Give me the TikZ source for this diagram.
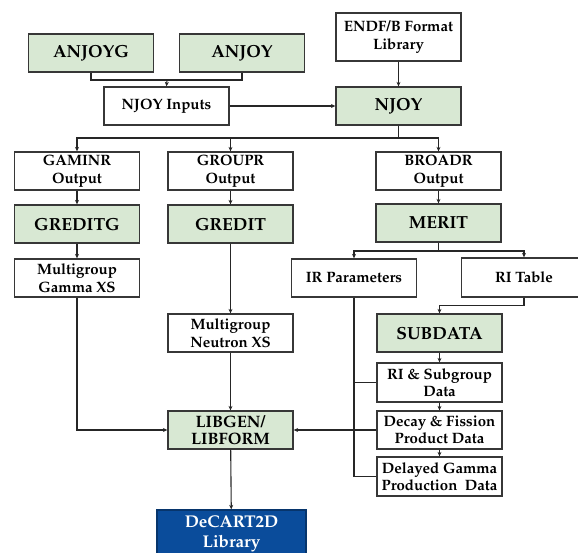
\documentclass[tikz,border=0pt]{standalone}
\usepackage[T1]{fontenc}
\usepackage{mathpazo}
\usetikzlibrary{arrows.meta}
\definecolor{boxgreen}{RGB}{216,232,211}
\definecolor{boxblue}{RGB}{10,76,155}
\definecolor{edgegray}{RGB}{55,55,55}
\tikzset{
  box/.style={draw=edgegray, line width=1.3pt, fill=white, minimum width=125pt, minimum height=38pt, inner sep=0pt, align=center, font=\fontsize{15}{17.5}\selectfont\bfseries},
  gbox/.style={box, fill=boxgreen, font=\fontsize{17.5}{19}\selectfont\bfseries},
  conn/.style={draw=black!85, line width=1.1pt},
  arr/.style={conn, -{Stealth[length=4.5pt,width=4pt]}},
}
\begin{document}
\begin{tikzpicture}[x=1pt,y=-1pt]
\useasboundingbox (0,0) rectangle (578,553);
% row 1
\node[gbox] (anjoyg) at (91,53) {ANJOYG};
\node[gbox] (anjoy) at (242,53) {ANJOY};
\node[box, minimum height=48pt] (endf) at (398.5,37) {ENDF/B Format\\Library};
% row 2
\node[box] (njin) at (166.5,106) {NJOY Inputs};
\node[gbox] (njoy) at (398.5,106) {NJOY};
% row 3
\node[box] (gaminr) at (77,171) {GAMINR\\Output};
\node[box] (groupr) at (230.5,171) {GROUPR\\Output};
\node[box] (broadr) at (438.5,171) {BROADR\\Output};
% row 4
\node[gbox] (greditg) at (77,224) {GREDITG};
\node[gbox] (gredit) at (230.5,224) {GREDIT};
\node[gbox] (merit) at (438.5,223) {MERIT};
% row 5
\node[box] (gxs) at (77,278) {Multigroup\\Gamma XS};
\node[box] (irp) at (354,278) {IR Parameters};
\node[box, minimum height=39pt] (ritab) at (524,277.5) {RI Table};
% right column
\node[gbox] (subdata) at (439.5,333) {SUBDATA};
\node[box, minimum height=39pt] (risub) at (439.5,382.5) {RI \& Subgroup\\Data};
\node[box] (decay) at (439.5,430) {Decay \& Fission\\Product Data};
\node[box, minimum height=39pt] (delayed) at (439.5,476.5) {Delayed Gamma\\Production~~Data};
% middle
\node[box] (nxs) at (230.5,333) {Multigroup\\Neutron XS};
\node[gbox, font=\fontsize{16.5}{17.5}\selectfont\bfseries] (libgen) at (230.5,430) {LIBGEN/\\LIBFORM};
\node[box, fill=boxblue, draw=boxblue!70!black, minimum width=149pt, minimum height=48pt, text=white, font=\fontsize{17}{20}\selectfont\bfseries] (decart) at (231.5,534) {DeCART2D\\Library};
% connectors
\coordinate (j1) at (167,80);
\draw[conn] (anjoyg.south) |- (j1) -| (anjoy.south);
\draw[arr] (j1) -- (njin.north);
\draw[arr] (njin.east) -- (njoy.west);
\draw[arr] (endf) -- (njoy);
\coordinate (j2) at (398.5,138);
\draw[conn] (njoy.south) -- (j2);
\draw[arr] (j2) -| (gaminr.north);
\draw[arr] (j2) -| (groupr.north);
\draw[arr] (j2) -| (broadr.north);
\draw[arr] (gaminr) -- (greditg);
\draw[arr] (groupr) -- (gredit);
\draw[arr] (broadr) -- (merit);
\draw[arr] (greditg) -- (gxs);
\draw[arr] (gredit) -- (nxs);
\coordinate (j3) at (438.5,251);
\draw[conn] (merit.south) -- (j3);
\draw[arr] (j3) -| (irp.north);
\draw[arr] (j3) -| (ritab.north);
\draw[arr] (ritab.south) -- ++(0,8) -| (subdata.north);
\draw[arr] (subdata) -- (risub);
\draw[arr] (risub) -- (decay);
\draw[arr] (decay) -- (delayed);
\draw[conn] (irp.south) |- (delayed.west);
\draw[conn] (irp.south |- risub.west) -- (risub.west);
\draw[arr] (decay.west) -- (libgen.east);
\draw[arr] (gxs.south) |- (libgen.west);
\draw[arr] (nxs) -- (libgen);
\draw[arr] (libgen) -- (decart);
\end{tikzpicture}
\end{document}
